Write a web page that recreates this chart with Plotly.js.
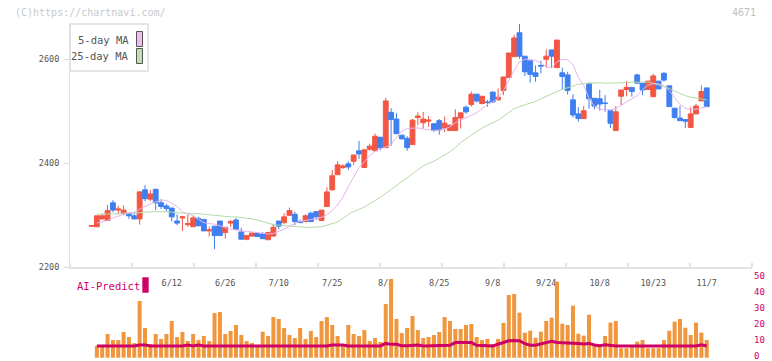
<!DOCTYPE html>
<html><head><meta charset="utf-8">
<script src="https://cdn.plot.ly/plotly-3.0.1.min.js"></script>
<style>html,body{margin:0;padding:0;background:#fff;}#chart{width:772px;height:361px;}</style>
</head><body><div id="chart"></div>
<script>
// ---- data (ticker 4671) ----
const dateTickIdx  = [15, 25, 35, 45, 55, 65, 75, 85, 95, 105, 115];
const dateTickText = ['6/12','6/26','7/10','7/25','8/8','8/25','9/8','9/24','10/8','10/23','11/7'];

const openP = [
 2279,2278,2293,2290,2324,2310,2303,2304,2299,2293,
 2349,2331,2350,2324,2318,2314,2289,2295,2282,2278,
 2294,2292,2270,2279,2289,2267,2285,2291,2268,2254,
 2260,2265,2264,2253,2260,2289,2286,2300,2302,2288,
 2288,2304,2307,2290,2317,2349,2378,2392,2399,2404,
 2424,2392,2427,2424,2450,2430,2498,2485,2454,2448,
 2436,2488,2478,2481,2476,2482,2468,2463,2463,2487,
 2508,2513,2533,2515,2518,2537,2522,2540,2565,2605,
 2651,2606,2597,2574,2588,2600,2618,2584,2574,2570,
 2522,2495,2486,2554,2525,2524,2516,2501,2463,2529,
 2542,2546,2570,2554,2542,2528,2558,2573,2549,2506,
 2487,2484,2469,2495,2520,2545];
const highP = [
 2280,2299,2303,2320,2329,2318,2319,2305,2306,2347,
 2358,2349,2351,2331,2322,2314,2302,2299,2302,2299,
 2297,2292,2278,2279,2289,2277,2291,2295,2276,2261,
 2266,2268,2268,2267,2283,2289,2304,2315,2307,2292,
 2302,2307,2307,2310,2354,2387,2404,2398,2404,2416,
 2443,2426,2438,2457,2451,2526,2506,2497,2455,2452,
 2485,2498,2499,2491,2476,2485,2490,2475,2504,2497,
 2511,2538,2533,2529,2522,2537,2544,2566,2613,2647,
 2668,2606,2597,2588,2597,2619,2618,2637,2584,2576,
 2533,2508,2510,2554,2525,2541,2531,2501,2510,2541,
 2558,2546,2572,2554,2558,2572,2558,2576,2549,2506,
 2510,2484,2508,2514,2550,2545];
const lowP = [
 2279,2278,2292,2290,2306,2302,2300,2293,2293,2282,
 2327,2327,2310,2312,2308,2288,2281,2270,2278,2278,
 2278,2270,2259,2235,2261,2255,2278,2273,2254,2252,
 2259,2259,2255,2253,2259,2273,2283,2299,2281,2286,
 2286,2288,2291,2290,2317,2347,2378,2389,2387,2397,
 2408,2392,2424,2424,2425,2430,2434,2457,2446,2424,
 2436,2473,2467,2470,2460,2455,2460,2462,2462,2467,
 2495,2509,2517,2513,2509,2517,2521,2531,2565,2605,
 2601,2568,2555,2557,2573,2584,2584,2584,2541,2532,
 2488,2480,2486,2505,2504,2501,2499,2468,2463,2512,
 2529,2528,2554,2531,2542,2528,2543,2557,2509,2486,
 2482,2468,2468,2495,2520,2509];
const closeP = [
 2280,2299,2299,2309,2310,2312,2310,2299,2293,2345,
 2332,2341,2324,2317,2313,2297,2285,2297,2284,2295,
 2280,2270,2272,2261,2261,2277,2288,2273,2254,2261,
 2266,2259,2255,2267,2277,2279,2297,2309,2288,2286,
 2299,2288,2297,2310,2345,2376,2397,2395,2393,2416,
 2418,2426,2433,2452,2430,2520,2484,2457,2447,2430,
 2483,2491,2485,2483,2463,2464,2477,2473,2488,2497,
 2499,2533,2520,2529,2517,2518,2527,2566,2612,2641,
 2606,2576,2571,2567,2587,2606,2606,2637,2567,2540,
 2493,2486,2501,2524,2510,2514,2515,2477,2499,2541,
 2546,2538,2554,2541,2558,2568,2543,2560,2509,2488,
 2482,2481,2495,2510,2538,2509];
const ma5 = [
 null,2285,2287,2290,2295,2299,2302,2304,2306,2312,
 2317,2321,2326,2329,2329,2323,2317,2307,2302,2299,
 2292,2286,2284,2283,2280,2276,2273,2272,2270,2269,
 2268,2267,2265,2264,2265,2269,2273,2279,2285,2288,
 2290,2293,2294,2296,2301,2309,2320,2335,2355,2374,
 2392,2403,2415,2423,2428,2431,2436,2450,2462,2467,
 2468,2468,2466,2464,2463,2464,2466,2470,2478,2483,
 2487,2492,2497,2505,2513,2518,2525,2540,2560,2579,
 2595,2600,2600,2598,2593,2586,2583,2595,2600,2599,
 2590,2565,2550,2525,2510,2504,2503,2503,2505,2512,
 2518,2524,2530,2542,2550,2553,2553,2549,2540,2526,
 2513,2506,2503,2504,2506,2509];
const ma25 = [
 null,2302,2302,2302,2303,2303,2304,2304,2305,2305,
 2306,2307,2307,2307,2307,2306,2305,2304,2304,2303,
 2303,2302,2301,2299,2298,2298,2297,2297,2296,2295,
 2293,2291,2288,2285,2282,2281,2280,2280,2279,2278,
 2277,2277,2277,2278,2281,2284,2287,2294,2302,2307,
 2311,2316,2322,2328,2335,2342,2350,2358,2365,2372,
 2380,2388,2395,2400,2404,2410,2416,2422,2430,2440,
 2447,2454,2461,2468,2473,2478,2483,2490,2497,2505,
 2509,2512,2515,2519,2524,2529,2534,2538,2542,2545,
 2549,2552,2553,2554,2555,2555,2554,2554,2554,2554,
 2555,2556,2556,2556,2556,2554,2551,2548,2544,2539,
 2534,2530,2527,2525,2523,2522];
// AI-Predict panel (starts at the second session)
const aiBars = [
 7.4,7.0,14.9,11.1,11.1,16.2,13.0,9.2,35.7,18.7,
 8.6,14.9,11.8,14.9,23.1,13.0,16.2,10.5,14.9,11.1,
 13.7,10.5,28.1,28.8,14.9,16.8,20.6,14.3,10.5,9.2,
 8.0,16.4,13.7,25.6,24.4,18.7,14.3,12.4,18.7,11.8,
 16.8,13.0,23.1,25.6,20.6,13.7,8.6,20.6,14.9,13.7,
 17.4,10.5,12.4,9.9,33.8,49.6,24.4,15.5,18.7,26.3,
 17.4,12.4,13.0,14.3,16.2,25.6,23.1,18.1,18.1,20.6,
 21.2,13.0,11.1,11.8,8.6,11.8,21.9,39.5,40.1,28.4,
 15.8,17.0,12.6,16.4,23.1,25.2,47.9,21.4,20.6,32.8,
 15.1,13.9,27.1,7.8,8.6,13.7,22.1,23.1,6.0,6.0,
 7.8,10.1,11.1,6.0,6.0,6.0,11.1,17.0,22.7,24.4,
 18.9,14.3,22.1,15.8,11.1];
const aiLine = [
 7.4,7.4,7.4,7.4,7.4,7.4,7.4,7.4,8.0,8.0,
 7.4,7.4,7.4,7.4,7.4,7.4,7.4,8.0,7.4,8.0,
 7.4,7.4,7.4,7.4,7.4,7.4,7.4,7.4,7.4,7.4,
 7.4,7.4,7.4,7.4,7.4,7.4,7.4,7.4,7.4,7.4,
 7.4,7.4,7.4,7.4,8.0,8.0,8.0,7.4,7.4,7.4,
 7.4,7.4,7.4,7.4,9.0,8.4,8.4,7.6,7.6,8.0,
 8.0,7.4,7.4,7.8,7.8,7.8,7.8,9.5,9.5,9.5,
 9.5,7.8,7.8,7.4,7.4,8.5,9.8,10.7,10.9,10.7,
 8.8,7.8,7.8,8.8,9.8,10.3,9.6,9.5,9.5,9.5,
 9.0,8.6,9.0,8.0,7.6,8.2,7.6,7.4,7.4,7.4,
 7.4,7.4,7.4,7.4,7.4,7.4,7.4,7.4,7.4,7.4,
 7.4,7.4,7.4,8.2,7.4];
const aiTicks = [0, 10, 20, 30, 40, 50];
const priceTicks = [2200, 2400, 2600];

// ---- layout helpers (pixel -> paper) ----
const W = 772, H = 361;
const px = v => v / W;
const py = v => 1 - v / H;
const FONT = 'DejaVu Sans Mono, Liberation Mono, monospace';
const RED = '#f25744', BLUE = '#3f7fef', PINK = '#e8b2ea', GREEN = '#b3daa4';
const CRIMSON = '#cc0066', ORANGE = '#f0963c';

const idx = openP.map((_, i) => i);
const aiX = aiBars.map((_, j) => j + 1);
const xRange = [-4.02, 123.46];
const gridTicks = Array.from({length: 12}, (_, k) => xRange[0] + 0.001 + k * (xRange[1] - xRange[0] - 0.002) / 11);
const aiPxPerUnit = 1.588;

const traces = [
  {type:'scatter', mode:'lines', x: idx, y: ma25, line:{color:GREEN, width:1}, hoverinfo:'skip', xaxis:'x', yaxis:'y'},
  {type:'scatter', mode:'lines', x: idx, y: ma5, line:{color:PINK, width:1}, hoverinfo:'skip', xaxis:'x', yaxis:'y'},
  {type:'candlestick', x: idx, open: openP, high: highP, low: lowP, close: closeP,
   increasing:{line:{color:RED, width:1}, fillcolor:RED},
   decreasing:{line:{color:BLUE, width:1}, fillcolor:BLUE},
   whiskerwidth:0, hoverinfo:'skip', xaxis:'x', yaxis:'y'},
  {type:'bar', x: aiX, y: aiBars, width:0.75, marker:{color:ORANGE, line:{width:0}}, hoverinfo:'skip', xaxis:'x2', yaxis:'y2'},
  {type:'scatter', mode:'lines', x: aiX, y: aiLine, line:{color:CRIMSON, width:3}, hoverinfo:'skip', xaxis:'x2', yaxis:'y2'}
];

const xDom = [px(70), px(752)];
const layout = {
  width: W, height: H, autosize:false,
  margin:{l:0, r:0, t:0, b:0, pad:0},
  paper_bgcolor:'#ffffff', plot_bgcolor:'#ffffff',
  showlegend:false, hovermode:false, dragmode:false,
  boxgap:0.05, boxgroupgap:0.05,
  font:{family:FONT, size:10, color:'#555'},
  xaxis:{domain:xDom, range:xRange, anchor:'y', fixedrange:true,
    rangeslider:{visible:false},
    showgrid:false, zeroline:false, showline:true, linecolor:'#e2e2e2', linewidth:2,
    tickmode:'array', tickvals:dateTickIdx, ticktext:dateTickText, ticks:'',
    tickangle:0, ticklabelstandoff:6, ticklabeloverflow:'allow',
    tickfont:{family:FONT, size:8.5, color:'#555'},
    minor:{tickmode:'array', tickvals:gridTicks, ticks:'inside', ticklen:4, tickwidth:2, tickcolor:'#e2e2e2', showgrid:false}},
  yaxis:{domain:[py(267.3), py(23)], range:[2200, 2200 + (267.3 - 23) * 400 / 208], anchor:'x', fixedrange:true,
    showgrid:false, zeroline:false, showline:true, linecolor:'#e2e2e2', linewidth:1,
    tickmode:'array', tickvals:priceTicks, ticks:'outside', ticklen:5, tickcolor:'#dddddd', tickwidth:1,
    ticklabelstandoff:3, ticklabeloverflow:'allow', tickfont:{family:FONT, size:8.5, color:'#555'}},
  xaxis2:{domain:xDom, range:xRange, anchor:'y2', fixedrange:true, visible:false, showgrid:false, zeroline:false},
  yaxis2:{domain:[0, py(270)], range:[-(361 - 357.7) / aiPxPerUnit, (357.7 - 270) / aiPxPerUnit], anchor:'x2', side:'right', fixedrange:true,
    showgrid:false, zeroline:false, showline:false, ticks:'',
    tickmode:'array', tickvals:aiTicks, ticklabelstandoff:1, ticklabelshift:-2, ticklabeloverflow:'allow',
    tickfont:{family:FONT, size:9, color:CRIMSON}},
  shapes:[
    {type:'rect', xref:'paper', yref:'paper', x0:px(70), x1:px(148), y0:py(71), y1:py(24), line:{color:'#dddddd', width:1.5}, fillcolor:'#ffffff', layer:'above'},
    {type:'rect', xref:'paper', yref:'paper', x0:px(136.5), x1:px(142.5), y0:py(46.5), y1:py(31.5), line:{color:'#555', width:1}, fillcolor:'#f0bcef', layer:'above'},
    {type:'rect', xref:'paper', yref:'paper', x0:px(136.5), x1:px(142.5), y0:py(63.5), y1:py(48.5), line:{color:'#555', width:1}, fillcolor:'#bfe0b3', layer:'above'},
    {type:'rect', xref:'paper', yref:'paper', x0:px(142.3), x1:px(148.7), y0:py(292.7), y1:py(277.3), line:{width:0}, fillcolor:CRIMSON, layer:'above'}
  ],
  annotations:[
    {xref:'paper', yref:'paper', x:px(13), y:py(12), xanchor:'left', yanchor:'middle', showarrow:false,
     text:'(C)https://chartnavi.com/', font:{family:FONT, size:10, color:'#c8c8c8'}},
    {xref:'paper', yref:'paper', x:px(758), y:py(12), xanchor:'right', yanchor:'middle', showarrow:false,
     text:'4671', font:{family:FONT, size:10, color:'#c0c0c0'}},
    {xref:'paper', yref:'paper', x:px(131), y:py(40), xanchor:'right', yanchor:'middle', showarrow:false,
     text:'5-day MA', font:{family:FONT, size:10.5, color:'#555'}},
    {xref:'paper', yref:'paper', x:px(131), y:py(56), xanchor:'right', yanchor:'middle', showarrow:false,
     text:'25-day MA', font:{family:FONT, size:10.5, color:'#555'}},
    {xref:'paper', yref:'paper', x:px(75), y:py(286), xanchor:'left', yanchor:'middle', showarrow:false,
     text:'AI-Predict', font:{family:FONT, size:10.5, color:CRIMSON}}
  ]
};

Plotly.newPlot('chart', traces, layout, {staticPlot:true, displayModeBar:false});
</script>
</body></html>
